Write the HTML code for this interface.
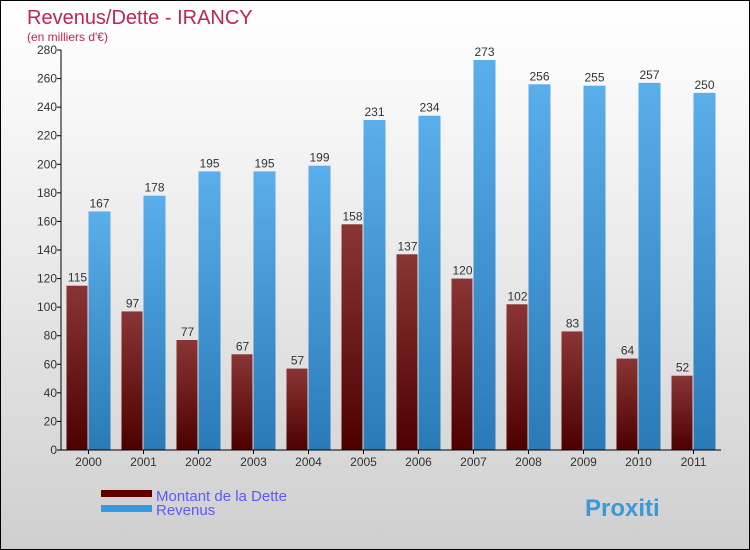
<!DOCTYPE html>
<html><head><meta charset="utf-8"><style>
body{margin:0}
#c{width:748px;height:548px;border:1px solid #000;background:linear-gradient(#fff,#f2f2f2 30%,#cfcfcf);position:relative;font-family:"Liberation Sans",sans-serif;overflow:hidden}
</style></head><body>
<div id="c">
<svg id="s" width="748" height="548"></svg>
</div>
<script>
const years=["2000","2001","2002","2003","2004","2005","2006","2007","2008","2009","2010","2011"];
const dette=[115,97,77,67,57,158,137,120,102,83,64,52];
const revenus=[167,178,195,195,199,231,234,273,256,255,257,250];
const ticks=[0,20,40,60,80,100,120,140,160,180,200,220,240,260,280];
const NS="http://www.w3.org/2000/svg";
const s=document.getElementById('s');
const X0=60,X1=720,Y0=449,Y1=49,MAX=280;
const step=(X1-X0)/years.length;
const y=v=>Y0-(Y0-Y1)*v/MAX;
const cx=i=>X0+step*(i+0.5);
function el(t,a,txt){const e=document.createElementNS(NS,t);for(const k in a)e.setAttribute(k,a[k]);if(txt!=null)e.textContent=txt;s.appendChild(e);return e;}
const defs=el('defs',{});
defs.innerHTML='<linearGradient id="gd" x1="0" y1="0" x2="0" y2="1"><stop offset="0" stop-color="#8a3535"/><stop offset="1" stop-color="#4d0000"/></linearGradient><linearGradient id="gr" x1="0" y1="0" x2="0" y2="1"><stop offset="0" stop-color="#5aaeea"/><stop offset="1" stop-color="#2a7ab8"/></linearGradient>';
let t=el('text',{x:26,y:23,fill:'#c0245a','font-size':20},'Revenus/Dette - IRANCY');

t=el('text',{x:26,y:40,fill:'#c0245a','font-size':12},"(en milliers d'€)");

ticks.forEach(v=>{
  const l=el('line',{x1:X0-4,x2:X0,y1:y(v),y2:y(v),stroke:'#000'});
  
  const tx=el('text',{x:X0-4,y:y(v)+4,'text-anchor':'end','font-size':12,fill:'#333'},v);
  
});
years.forEach((yr,i)=>{
  const c=cx(i);
  const b1=el('rect',{x:c-22,y:y(dette[i]),width:21,height:Y0-y(dette[i]),fill:'url(#gd)'});
  
  const b2=el('rect',{x:c,y:y(revenus[i]),width:22,height:Y0-y(revenus[i]),fill:'url(#gr)'});
  
  const l1=el('text',{x:c-11,y:y(dette[i])-4,'text-anchor':'middle','font-size':12,fill:'#333'},dette[i]);
  
  const l2=el('text',{x:c+11,y:y(revenus[i])-4,'text-anchor':'middle','font-size':12,fill:'#333'},revenus[i]);
  
  const xl=el('text',{x:c,y:Y0+16,'text-anchor':'middle','font-size':12,fill:'#333'},yr);
  
  const xt=el('line',{x1:c,x2:c,y1:Y0,y2:Y0+4,stroke:'#000'});
  
});
let a=el('line',{x1:X0,x2:X0,y1:Y1,y2:Y0,stroke:'#000'});

a=el('line',{x1:X0,x2:X1,y1:Y0,y2:Y0,stroke:'#000'});

let r=el('rect',{x:100,y:489,width:51,height:7,fill:'#5e0000'});

r=el('rect',{x:100,y:504,width:51,height:7,fill:'#3399e0'});

t=el('text',{x:155,y:500,'font-size':15,fill:'#5a5aff'},'Montant de la Dette');

t=el('text',{x:155,y:514,'font-size':15,fill:'#5a5aff'},'Revenus');

t=el('text',{x:584,y:515,'font-size':24,'font-weight':'bold',fill:'#3a9ad9'},'Proxiti');

</script>
</body></html>
